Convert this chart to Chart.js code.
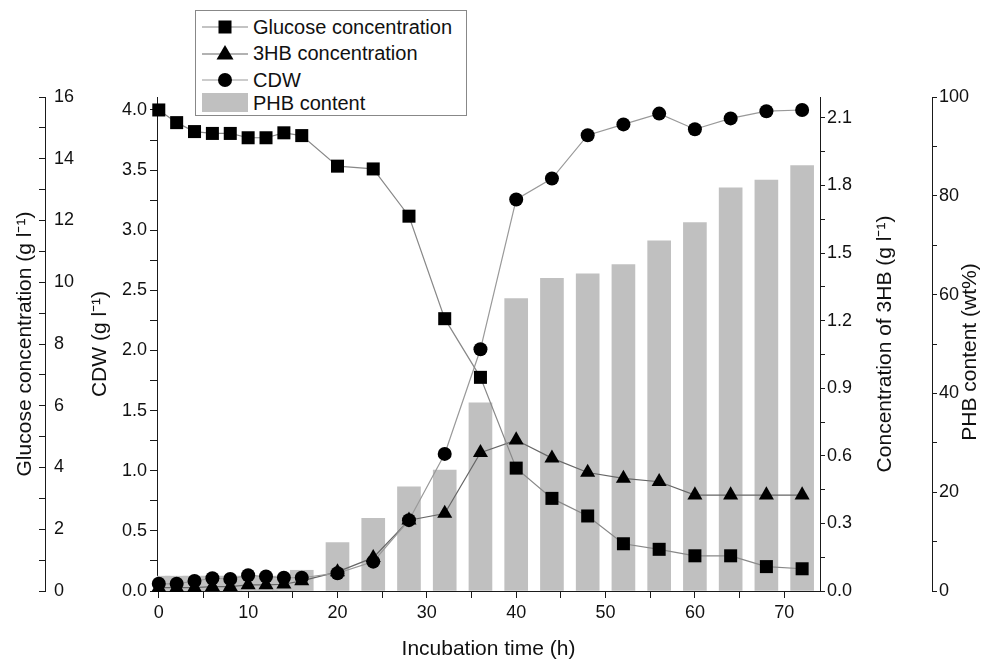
<!DOCTYPE html>
<html>
<head>
<meta charset="utf-8">
<script src="https://cdn.jsdelivr.net/npm/chart.js@4.4.0/dist/chart.umd.min.js"></script>
<style>
  html, body { margin: 0; padding: 0; background: #fff; }
  #wrap { position: relative; width: 989px; height: 660px; }
  #legend {
    position: absolute; left: 195px; top: 10px; width: 270px; height: 104px;
    border: 1px solid #888; background: #fff;
    font-family: 'Liberation Sans', Arial, sans-serif; font-size: 20px; color: #111;
  }
  .row { position: absolute; left: 0; height: 24px; display: flex; align-items: center; white-space: nowrap; }
  .row svg { width: 57px; height: 24px; flex: none; }
</style>
</head>
<body>
<div id="wrap">
  <canvas id="chart" width="989" height="660"></canvas>
  <div id="legend">
    <div class="row" style="top:4px">
      <svg viewBox="0 0 57 24"><line x1="6" y1="12" x2="52" y2="12" stroke="#888" stroke-width="1.2"/><rect x="22.5" y="5.5" width="13" height="13" fill="#000"/></svg>
      <span>Glucose concentration</span>
    </div>
    <div class="row" style="top:30px">
      <svg viewBox="0 0 57 24"><line x1="6" y1="13" x2="52" y2="13" stroke="#666" stroke-width="1.2"/><polygon points="29,4 37.5,18.5 20.5,18.5" fill="#000"/></svg>
      <span>3HB concentration</span>
    </div>
    <div class="row" style="top:57px">
      <svg viewBox="0 0 57 24"><line x1="6" y1="12" x2="52" y2="12" stroke="#999" stroke-width="1.2"/><circle cx="29" cy="12" r="7" fill="#000"/></svg>
      <span>CDW</span>
    </div>
    <div class="row" style="top:80px">
      <svg viewBox="0 0 57 24"><rect x="6" y="2" width="46" height="19" fill="#c0c0c0"/></svg>
      <span>PHB content</span>
    </div>
  </div>
</div>
<script>
// values
const hours = [0, 2, 4, 6, 8, 10, 12, 14, 16, 20, 24, 28, 32, 36, 40, 44, 48, 52, 56, 60, 64, 68, 72];
const glucose = [15.58, 15.17, 14.88, 14.82, 14.82, 14.68, 14.68, 14.84, 14.75, 13.76, 13.67, 12.14, 8.82, 6.92, 3.98, 3.00, 2.43, 1.53, 1.35, 1.14, 1.14, 0.79, 0.72];
const hb3 = [0.015, 0.015, 0.015, 0.019, 0.019, 0.027, 0.027, 0.03, 0.045, 0.085, 0.148, 0.314, 0.344, 0.614, 0.67, 0.59, 0.526, 0.50, 0.485, 0.426, 0.426, 0.426, 0.426];
const cdw = [0.06, 0.06, 0.083, 0.106, 0.10, 0.131, 0.12, 0.11, 0.11, 0.148, 0.244, 0.589, 1.14, 2.01, 3.256, 3.43, 3.79, 3.88, 3.97, 3.84, 3.93, 3.99, 4.0];
const phb = [3, 3, 3, 3, 3, 3, 3, 3, 4.2, 9.8, 14.7, 21.1, 24.5, 38.1, 59.2, 63.3, 64.2, 66.1, 70.9, 74.6, 81.6, 83.2, 86.1];

const xTitle = 'Incubation time (h)';
const gluTitle = 'Glucose concentration (g l\u207B\u00B9)';
const cdwTitle = 'CDW (g l\u207B\u00B9)';
const hbTitle = 'Concentration of 3HB (g l\u207B\u00B9)';
const phbTitle = 'PHB content (wt%)';

const FAMILY = "'Liberation Sans', Arial, sans-serif";
const tickFont = { family: FAMILY, size: 18 };
const titleFont = { family: FAMILY, size: 21, lineHeight: 1.05 };
const INK = '#111';
const AXIS = '#1a1a1a';

function pts(ys) {
  return hours.map((h, i) => ({ x: h, y: ys[i] }));
}

// label only every other tick, the rest stay as minor ticks
function everyOther(step, digits) {
  return function (v) {
    const k = Math.round(v / step);
    return k % 2 === 0 ? (k * step).toFixed(digits) : '';
  };
}

function yAxis(pos, weight, max, step, digits, width, extra) {
  const ax = {
    type: 'linear',
    position: pos,
    weight: weight,
    min: 0,
    max: max,
    border: { color: AXIS, width: 1 },
    grid: { drawOnChartArea: false, tickLength: 6, tickColor: AXIS, tickWidth: 1 },
    ticks: {
      stepSize: step, includeBounds: false, autoSkip: false,
      font: tickFont, color: INK, padding: 3,
      callback: everyOther(step, digits)
    },
    afterFit: (s) => { s.width = width; }
  };
  return Object.assign(ax, extra || {});
}

// right hand titles read bottom-to-top like the left ones
const rightTitles = {
  id: 'rightTitles',
  afterDraw(chart) {
    const ctx = chart.ctx;
    const a = chart.chartArea;
    const yc = (a.top + a.bottom) / 2;
    const items = [
      [hbTitle, chart.scales.yHb.right - 47, yc],
      [phbTitle, chart.scales.yPhb.right - 19, yc + 8]
    ];
    ctx.save();
    ctx.font = '21px ' + FAMILY;
    ctx.fillStyle = INK;
    ctx.textAlign = 'center';
    ctx.textBaseline = 'middle';
    for (const [t, x, y] of items) {
      ctx.save();
      ctx.translate(x, y);
      ctx.rotate(-Math.PI / 2);
      ctx.fillText(t, 0, 0);
      ctx.restore();
    }
    ctx.restore();
  }
};

const config = {
  type: 'line',
  data: {
    datasets: [
      {
        type: 'line', label: 'Glucose concentration', data: pts(glucose), yAxisID: 'yGlu',
        borderColor: '#888', borderWidth: 1.2, tension: 0,
        pointStyle: 'rect', pointRadius: 9.2, pointBackgroundColor: '#000', pointBorderColor: '#000', pointBorderWidth: 0,
        clip: false, order: 1
      },
      {
        type: 'line', label: '3HB concentration', data: pts(hb3), yAxisID: 'yHb',
        borderColor: '#666', borderWidth: 1.2, tension: 0,
        pointStyle: 'triangle', pointRadius: 8.7, pointBackgroundColor: '#000', pointBorderColor: '#000', pointBorderWidth: 0,
        clip: false, order: 3
      },
      {
        type: 'line', label: 'CDW', data: pts(cdw), yAxisID: 'yCdw',
        borderColor: '#999', borderWidth: 1.2, tension: 0,
        pointStyle: 'circle', pointRadius: 7, pointBackgroundColor: '#000', pointBorderColor: '#000', pointBorderWidth: 0,
        clip: false, order: 2
      },
      {
        type: 'bar', label: 'PHB content', data: pts(phb), yAxisID: 'yPhb',
        backgroundColor: '#c0c0c0', borderWidth: 0, barThickness: 23, order: 10
      }
    ]
  },
  options: {
    responsive: false,
    animation: false,
    layout: { padding: { top: 97, left: 0, right: 0, bottom: 0 } },
    plugins: { legend: { display: false }, tooltip: { enabled: false } },
    scales: {
      x: {
        type: 'linear', position: 'bottom', min: -0.2, max: 74, offset: false,
        border: { color: AXIS, width: 1 },
        grid: { drawOnChartArea: false, offset: false, tickLength: 7, tickColor: AXIS },
        ticks: {
          stepSize: 5, includeBounds: false, autoSkip: false, maxRotation: 0,
          font: tickFont, color: INK, padding: 4,
          callback: (v) => (v % 10 === 0 ? String(v) : '')
        },
        title: { display: true, text: xTitle, font: titleFont, color: INK, padding: { top: 0, bottom: 0 } },
        afterFit: (s) => { s.height = 69; }
      },
      yCdw: yAxis('left', 0, 4.108, 0.25, 1, 112, {
        title: { display: true, text: cdwTitle, font: titleFont, color: INK, padding: { top: 44, bottom: 0 } }
      }),
      yGlu: yAxis('left', 1, 16, 1, 0, 45, {
        title: { display: true, text: gluTitle, font: titleFont, color: INK, padding: { top: 14, bottom: 0 } }
      }),
      yHb: yAxis('right', 0, 2.193, 0.15, 1, 112),
      yPhb: yAxis('right', 1, 100, 10, 0, 57)
    }
  },
  plugins: [rightTitles]
};

// glucose labels sit to the right of its axis line
config.options.scales.yGlu.ticks.mirror = true;
config.options.scales.yGlu.ticks.padding = 9;
config.options.scales.yHb.ticks.padding = 2;
config.options.scales.yHb.grid.tickLength = 5;
config.options.scales.yPhb.ticks.padding = 2;
config.options.scales.yPhb.grid.tickLength = 5;
config.options.scales.yCdw.grid.tickLength = 7;

new Chart(document.getElementById('chart'), config);
</script>
</body>
</html>
